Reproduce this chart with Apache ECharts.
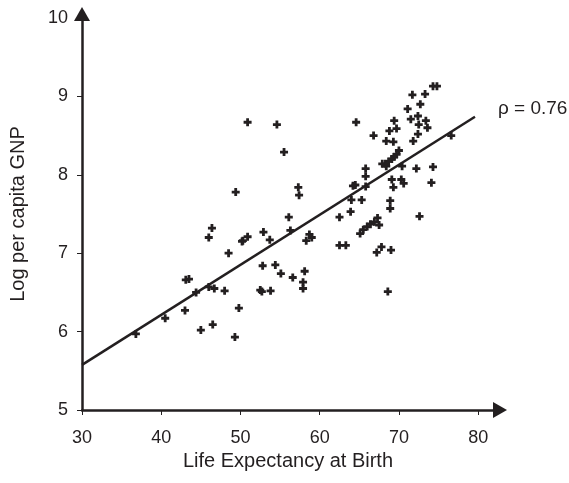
<!DOCTYPE html>
<html><head><meta charset="utf-8">
<script src="https://cdn.jsdelivr.net/npm/echarts@6/dist/echarts.min.js"></script>
<style>html,body{margin:0;padding:0;background:#fff}#c{width:569px;height:483px}</style>
</head><body><div id="c"></div>
<script>
var lifeExp = [36.8,40.5,43.0,43.1,43.5,44.4,45.0,46.5,46.0,46.7,48.0,49.3,49.8,48.5,46.0,46.4,50.2,50.3,50.9,52.9,53.7,52.8,54.4,55.1,52.5,52.7,53.8,50.9,54.6,55.5,49.4,57.3,57.4,56.1,56.3,58.7,59.0,58.3,56.6,58.1,57.9,57.9,64.6,66.8,65.8,65.8,64.2,64.5,65.8,64.0,65.3,63.9,62.5,62.5,63.3,65.1,65.5,66.0,66.4,66.9,67.3,67.5,67.2,67.8,69.0,68.9,68.9,72.6,68.6,69.1,69.3,70.3,70.6,74.1,74.3,72.2,70.4,70.0,69.7,69.4,69.1,68.7,68.3,67.9,68.4,68.4,69.3,71.8,76.6,68.8,69.7,72.4,69.4,71.5,72.4,73.4,72.5,73.6,71.1,72.7,71.7,73.3,74.3,74.8];
var logGNP = [5.97,6.17,6.27,6.66,6.67,6.50,6.02,6.09,6.57,6.55,6.52,5.93,6.30,7.00,7.20,7.32,7.15,7.16,7.21,7.27,7.17,6.84,6.85,6.74,6.53,6.51,6.52,8.67,8.64,8.29,7.78,7.84,7.74,7.46,7.29,7.24,7.20,7.16,6.69,6.77,6.63,6.55,8.67,8.50,8.08,7.98,7.86,7.87,7.85,7.68,7.68,7.53,7.46,7.10,7.10,7.25,7.30,7.34,7.37,7.40,7.45,7.36,7.01,7.08,7.04,7.67,7.57,7.47,6.51,7.94,7.84,7.94,7.89,7.90,8.10,8.08,8.11,8.31,8.26,8.23,8.20,8.17,8.14,8.14,8.11,8.43,8.42,8.43,8.50,8.56,8.59,8.52,8.69,8.71,8.75,8.69,8.64,8.60,8.84,8.90,9.02,9.03,9.13,9.13];
var fitX = [30, 79.6];
var fitY = [5.575, 8.74];
var xTicks = [30,40,50,60,70,80];
var corrLabel = 'ρ = 0.76';

var ink = '#231f20';
var font = '"Liberation Sans", Arial, Helvetica, sans-serif';
var pts = lifeExp.map(function(x,i){return [x, logGNP[i]];});
var fit = fitX.map(function(x,i){return [x, fitY[i]];});

var chart = echarts.init(document.getElementById('c'));
chart.setOption({
  animation:false,
  backgroundColor:'#fff',
  grid:{left:81, top:18, right:75, bottom:73, containLabel:false},
  xAxis:{type:'value', min:30, max:82, interval:10,
    name:'Life Expectancy at Birth', nameLocation:'middle', nameGap:41,
    nameTextStyle:{color:ink, fontSize:20, fontFamily:font},
    axisLine:{show:true, lineStyle:{color:ink, width:2.5}, symbol:['none','triangle'], symbolSize:[16,14], symbolOffset:[0,6]},
    axisTick:{show:true, length:5, lineStyle:{color:ink, width:1}, customValues:xTicks},
    axisLabel:{color:ink, fontSize:18, fontFamily:font, margin:19, customValues:xTicks},
    splitLine:{show:false}},
  yAxis:{type:'value', min:5, max:10, interval:1,
    name:'Log per capita GNP', nameLocation:'middle', nameGap:54,
    nameTextStyle:{color:ink, fontSize:20, fontFamily:font},
    axisLine:{show:true, lineStyle:{color:ink, width:2.5}, symbol:['none','triangle'], symbolSize:[16,14], symbolOffset:[0,4]},
    axisTick:{show:true, length:5, lineStyle:{color:ink, width:1}},
    axisLabel:{color:ink, fontSize:18, fontFamily:font, margin:14},
    splitLine:{show:false}},
  graphic:[{type:'text', left:498, top:99, style:{text:corrLabel, fill:ink, font:'19px ' + font}}],
  series:[
    {type:'scatter', data:pts, symbol:'path://M2.6,0h2.8v2.6h2.6v2.8h-2.6v2.6h-2.8v-2.6h-2.6v-2.8h2.6z', symbolSize:8,
     itemStyle:{color:ink, opacity:1}, z:3},
    {type:'line', data:fit, showSymbol:false, symbol:'none', lineStyle:{color:ink, width:2.5}, z:2, silent:true}
  ]
});
</script></body></html>
